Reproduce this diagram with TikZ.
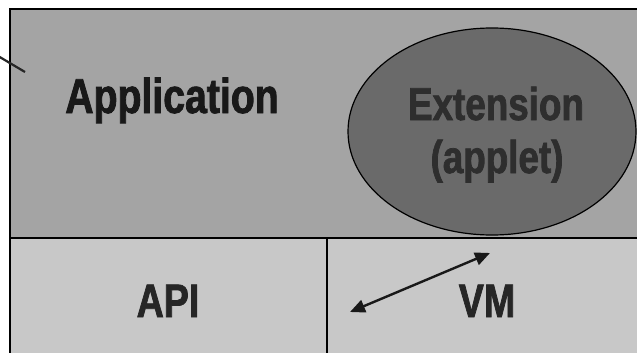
\documentclass[tikz,border=0pt]{standalone}
\usepackage{fontspec}
\newfontfamily\narrowbold[FakeStretch=0.8,FakeBold=1.6]{Liberation Sans Bold}
\usetikzlibrary{arrows.meta,shapes.geometric}
\definecolor{topgray}{HTML}{A4A4A4}
\definecolor{lowgray}{HTML}{C8C8C8}
\definecolor{extgray}{HTML}{6A6A6A}
\definecolor{exttext}{HTML}{2E2E2E}
\tikzset{
  box/.style={draw=black, line width=1.6pt},
  lbl/.style={font=\narrowbold\fontsize{49}{49}\selectfont, anchor=base, inner sep=0pt, text=black!90},
  smalllbl/.style={font=\narrowbold\fontsize{47}{47}\selectfont, anchor=base, inner sep=0pt, text=black!85},
  extlbl/.style={font=\narrowbold\fontsize{46}{46}\selectfont, anchor=base, inner sep=0pt, text=exttext},
  link/.style={draw=black!90, line width=2.4pt, {Triangle[length=15pt,width=13pt]}-{Triangle[length=15pt,width=13pt]}},
  pointer/.style={draw=black!85, line width=2.2pt}
}
\begin{document}
\begin{tikzpicture}[x=1pt,y=-1pt]
\useasboundingbox (0,0) rectangle (637,353);
\fill[white] (0,0) rectangle (637,353);
% boxes
\draw[box, fill=topgray] (10,9) rectangle (645,238);
\draw[box, fill=lowgray] (10,238) rectangle (327,360);
\draw[box, fill=lowgray] (327,238) rectangle (645,360);
% extension ellipse
\node (ext) [draw=black, line width=1.2pt, fill=extgray, ellipse, minimum width=288pt, minimum height=207pt, inner sep=0pt] at (492,131.5) {};
% labels
\node (application) [lbl] at (172,113) {Application};
\node (extension) [extlbl] at (496,120) {Extension};
\node (applet) [extlbl] at (497,173) {(applet)};
\node (api) [smalllbl] at (168,317) {API};
\node (vm) [smalllbl] at (487,317) {VM};
% arrow between the lower box and the extension
\coordinate (aL) at (350,312);
\coordinate (aR) at (490,253);
\draw[link] (aL) -- (aR);
% pointer line at top-left
\coordinate (p0) at (-2,56);
\coordinate (p1) at (25,72);
\draw[pointer] (p0) -- (p1);
\end{tikzpicture}
\end{document}
